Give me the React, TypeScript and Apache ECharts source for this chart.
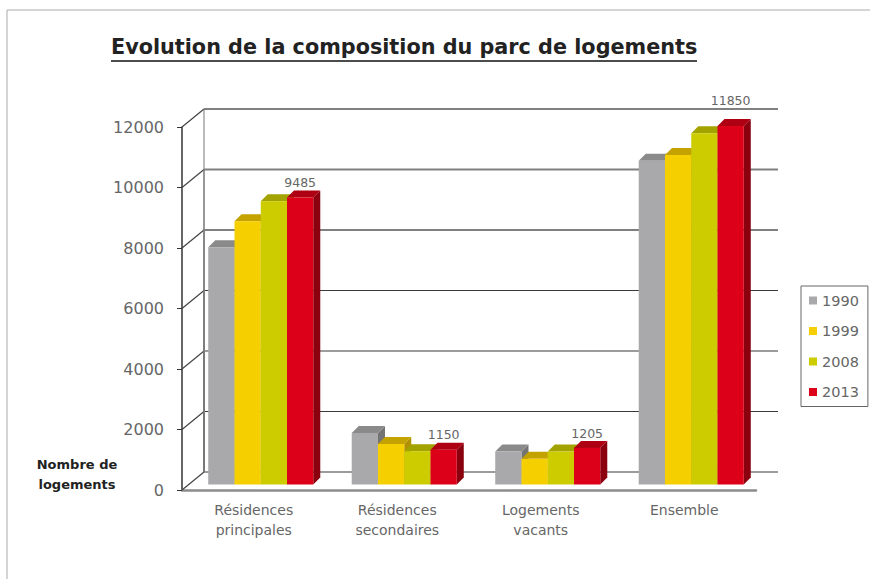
import React, { useEffect, useRef } from "react";
import * as echarts from "echarts";

const categories = ["Résidences\nprincipales", "Résidences\nsecondaires", "Logements\nvacants", "Ensemble"];
const years = ["1990", "1999", "2008", "2013"];
const values1990 = [7840, 1700, 1090, 10700];
const values1999 = [8700, 1340, 850, 10890];
const values2008 = [9360, 1100, 1090, 11610];
const values2013 = [9485, 1150, 1205, 11850];
const yTicks = [0, 2000, 4000, 6000, 8000, 10000, 12000];
const seriesValues = [values1990, values1999, values2008, values2013];
const frontColors = ["#a9a9ab", "#f5cf00", "#cccc00", "#dc0018"];
const topColors = ["#8a8a8a", "#c4a200", "#a3a300", "#ae0012"];
const sideColors = ["#747474", "#b09200", "#959500", "#8a000e"];

const FONT = '"DejaVu Sans", sans-serif';
const WALL_DX = 22;
const WALL_DY = 18;
const BAR_DX = 7;
const BAR_DY = 5.5;
const BAR_DEPTH = 7;
const BAR_SHARE = 0.183;

function wallItem(params: any, api: any) {
  const v = api.value(1);
  const y = api.coord([0, v])[1];
  const x0 = params.coordSys.x;
  const x1 = x0 + params.coordSys.width;
  const light = v >= 8000;
  const children: any[] = [
    {
      type: "line",
      shape: { x1: x0, y1: y, x2: x0 + WALL_DX, y2: y - WALL_DY },
      style: { stroke: "#444", lineWidth: 1.2 },
    },
    {
      type: "line",
      shape: { x1: x0 + WALL_DX, y1: y - WALL_DY, x2: x1 + WALL_DX, y2: y - WALL_DY },
      style: { stroke: light ? "#808080" : "#3a3a3a", lineWidth: light ? 2 : 1.2 },
    },
  ];
  if (v > 0) {
    const below = api.coord([0, 0])[1];
    children.push({
      type: "line",
      shape: { x1: x0 + WALL_DX, y1: y - WALL_DY, x2: x0 + WALL_DX, y2: below - WALL_DY },
      style: { stroke: "#777", lineWidth: 1 },
    });
  }
  return { type: "group", children };
}

function barRenderer(index: number, labelled: boolean) {
  return (params: any, api: any) => {
    const cat = api.value(0);
    const val = api.value(1);
    const [cx, yTop0] = api.coord([cat, val]);
    const yBase0 = api.coord([cat, 0])[1];
    const w = api.size([1, 0])[0] * BAR_SHARE;
    const l = cx + BAR_DX + (index - 2) * w;
    const r = l + w;
    const t = yTop0 - BAR_DY;
    const b = yBase0 - BAR_DY;
    const d = BAR_DEPTH;
    const children: any[] = [
      {
        type: "polygon",
        shape: { points: [[r, b], [r + d, b - d], [r + d, t - d], [r, t]] },
        style: { fill: sideColors[index] },
      },
      {
        type: "polygon",
        shape: { points: [[l, t], [l + d, t - d], [r + d, t - d], [r, t]] },
        style: { fill: topColors[index] },
      },
      { type: "rect", shape: { x: l, y: t, width: w, height: b - t }, style: { fill: frontColors[index] } },
    ];
    if (labelled) {
      const above = t - 15;
      children.push({
        type: "text",
        style: {
          text: String(val),
          x: (l + r) / 2,
          y: above > 112 ? above : 100,
          align: "center",
          verticalAlign: "middle",
          fill: "#666",
          font: `12.5px ${FONT}`,
        },
      });
    }
    return { type: "group", children };
  };
}

export default function App() {
  const ref = useRef<HTMLDivElement>(null);
  useEffect(() => {
    const chart = echarts.init(ref.current!, undefined, { renderer: "svg" });
    chart.setOption({
      animation: false,
      backgroundColor: "#fff",
      title: {
        text: "Evolution de la composition du parc de logements",
        left: 111,
        top: 36,
        padding: 0,
        textStyle: { fontFamily: FONT, fontSize: 20.75, fontWeight: "bold", color: "#222" },
      },
      grid: { left: 182, right: 114, top: 127, bottom: 89 },
      legend: {
        data: years,
        orient: "vertical",
        left: 801,
        top: 286,
        padding: [7, 9, 7, 8],
        itemWidth: 8,
        itemHeight: 8,
        itemGap: 15.5,
        icon: "rect",
        borderColor: "#666",
        borderWidth: 1,
        textStyle: { fontFamily: FONT, fontSize: 14.5, color: "#666" },
      },
      xAxis: {
        type: "category",
        data: categories,
        axisLine: { lineStyle: { color: "#8c8c8c", width: 2.5 } },
        axisTick: { length: 4, lineStyle: { color: "#777" } },
        axisLabel: { fontFamily: FONT, fontSize: 14, color: "#666", margin: 10, lineHeight: 20 },
      },
      yAxis: {
        type: "value",
        min: 0,
        max: 12000,
        interval: 2000,
        axisLine: { show: true, lineStyle: { color: "#333", width: 1.5 } },
        axisTick: { show: true, length: 5, lineStyle: { color: "#333" } },
        axisLabel: { fontFamily: FONT, fontSize: 16, color: "#666", margin: 18, formatter: (v: number) => String(v) },
        splitLine: { show: false },
      },
      series: [
        {
          type: "custom",
          name: "wall",
          silent: true,
          renderItem: wallItem,
          encode: { x: 0, y: 1 },
          data: yTicks.map((v) => [0, v]),
        },
        ...years.map((year, i) => ({
          type: "custom",
          name: year,
          itemStyle: { color: frontColors[i] },
          renderItem: barRenderer(i, i === years.length - 1),
          encode: { x: 0, y: 1 },
          data: seriesValues[i].map((v, c) => [c, v]),
        })),
      ],
      graphic: [
        {
          type: "line",
          shape: { x1: 111, y1: 61, x2: 697, y2: 61 },
          style: { stroke: "#111", lineWidth: 1.5 },
        },
        {
          type: "line",
          shape: { x1: 7, y1: 10, x2: 870, y2: 10 },
          style: { stroke: "#aaa", lineWidth: 1 },
        },
        {
          type: "line",
          shape: { x1: 7, y1: 10, x2: 7, y2: 579 },
          style: { stroke: "#aaa", lineWidth: 1 },
        },
        {
          type: "text",
          style: {
            text: "Nombre de\nlogements",
            x: 77,
            y: 474,
            align: "center",
            verticalAlign: "middle",
            lineHeight: 20,
            fill: "#222",
            font: `bold 13px ${FONT}`,
          },
        },
      ],
    });
    return () => chart.dispose();
  }, []);
  return <div ref={ref} style={{ position: "fixed", left: 0, top: 0, width: 870, height: 579 }} />;
}
